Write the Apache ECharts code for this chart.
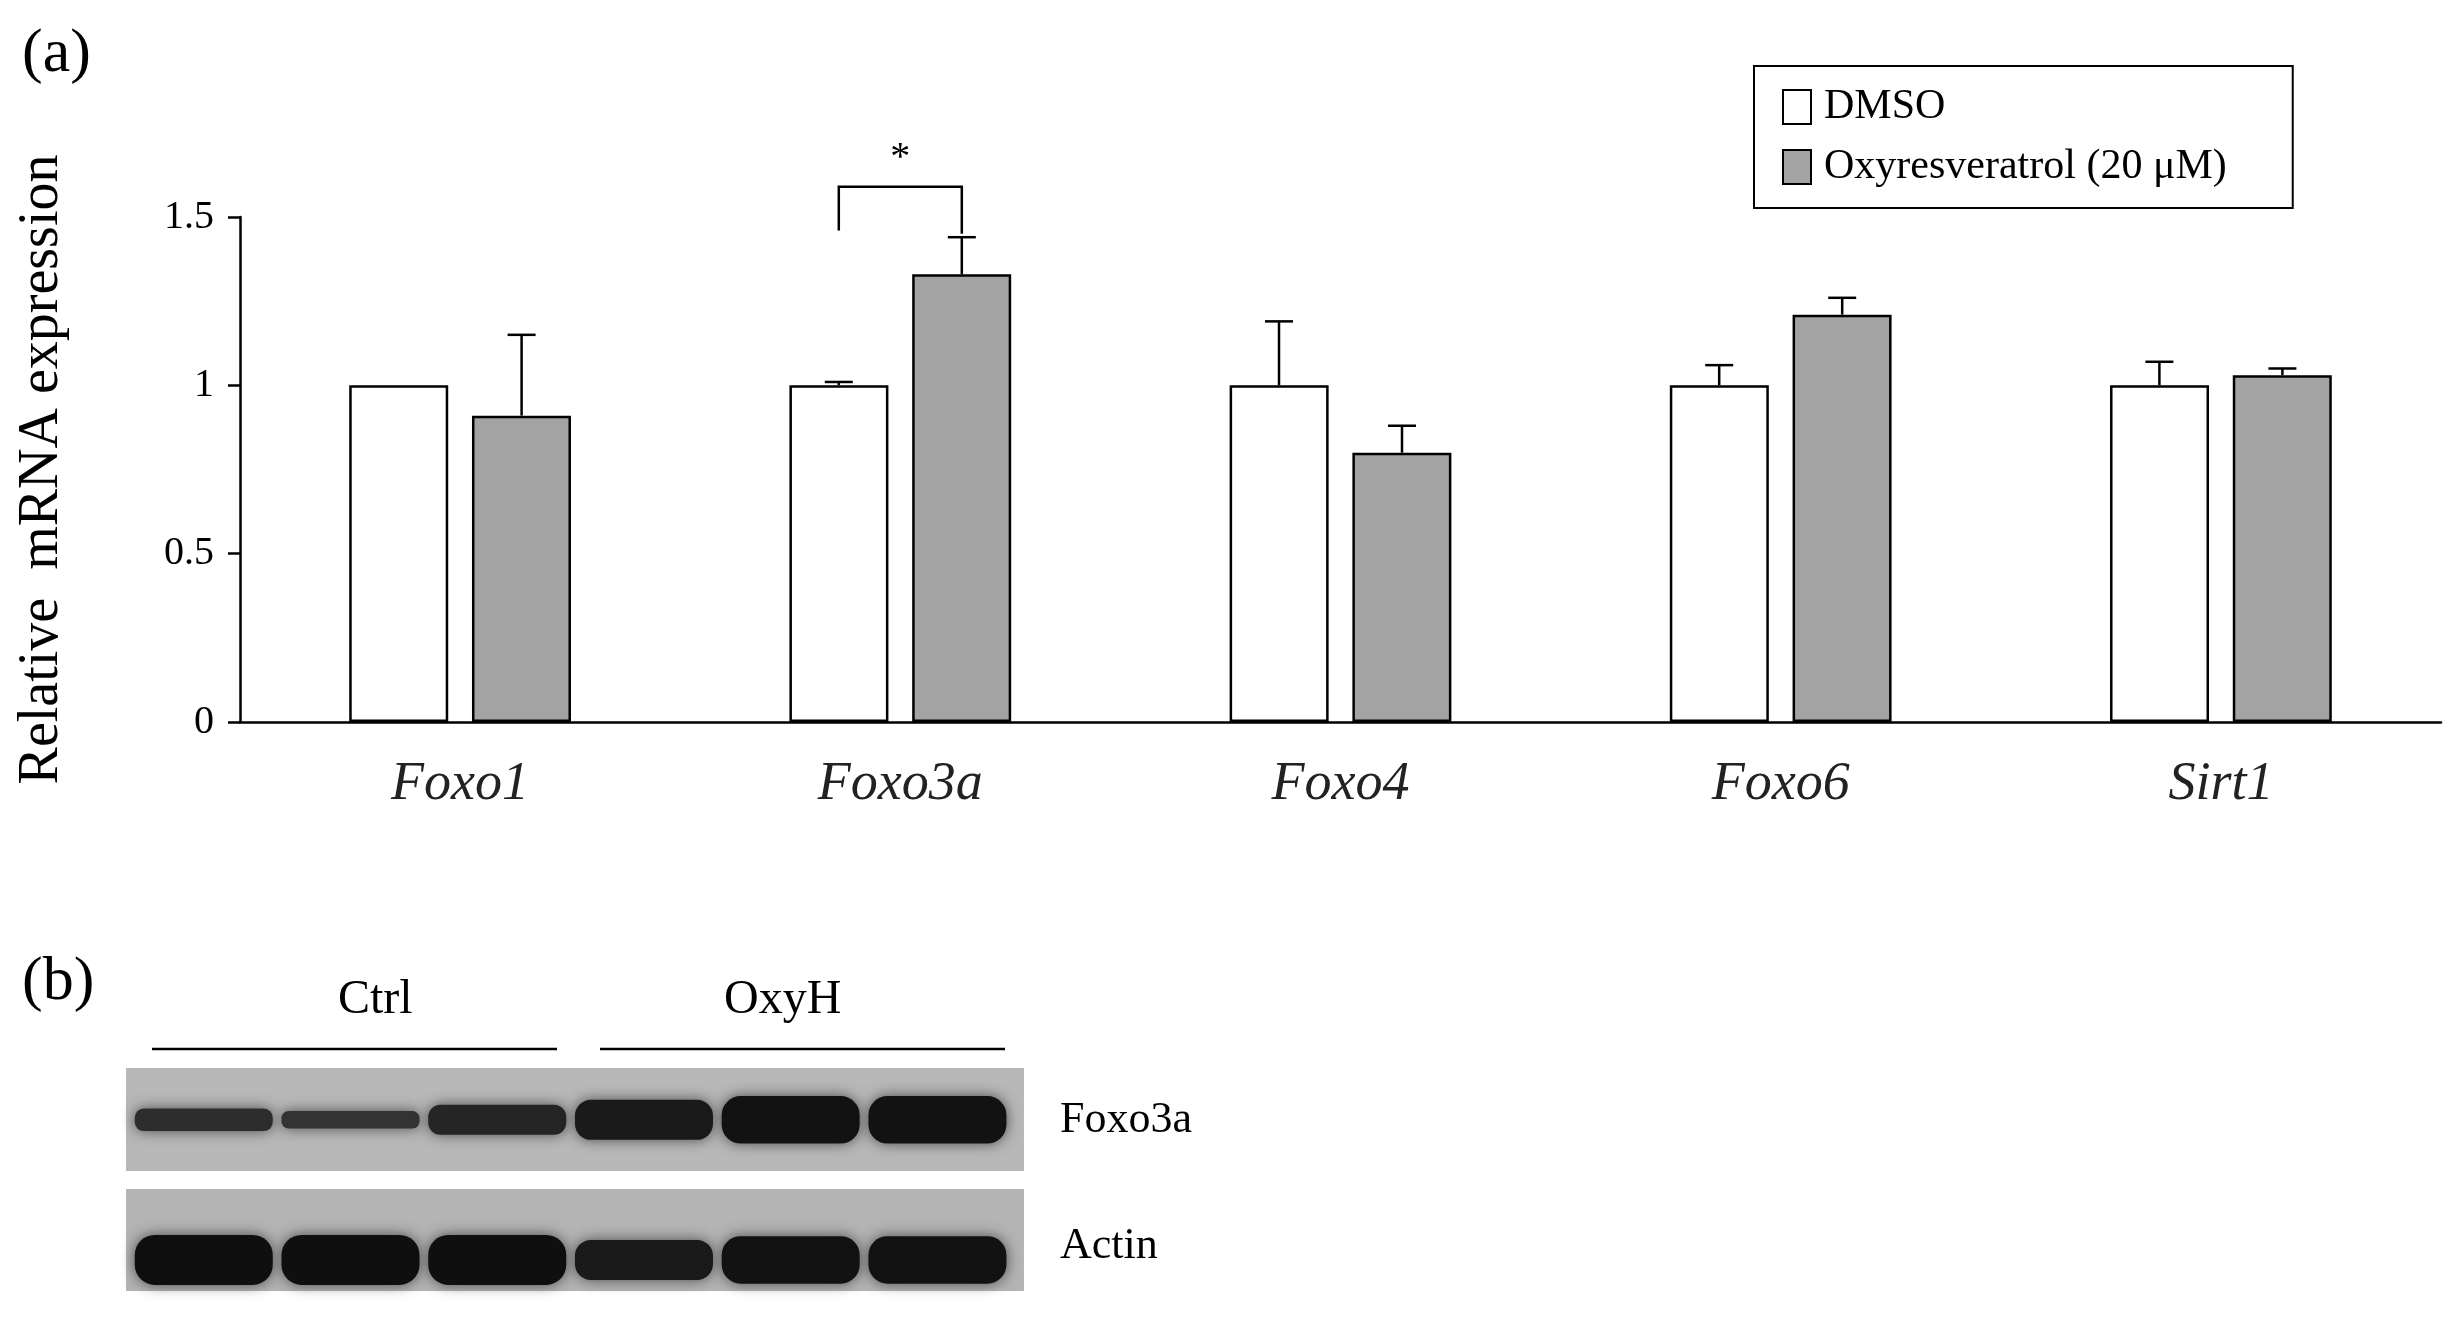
<!DOCTYPE html>
<html>
<head>
<meta charset="UTF-8">
<title>Relative mRNA expression</title>
<script src="https://cdn.jsdelivr.net/npm/echarts@6/dist/echarts.min.js"></script>
<style>html,body{margin:0;background:#fff}#chart{width:2462px;height:1320px}</style>
</head>
<body>
<div id="chart"></div>
<script>
// 数据
const genes = ['Foxo1', 'Foxo3a', 'Foxo4', 'Foxo6', 'Sirt1'];
const dmso = [1.0, 1.0, 1.0, 1.0, 1.0];
const dmsoErr = [0.0, 0.01, 0.19, 0.06, 0.07];
const oxy = [0.91, 1.33, 0.80, 1.21, 1.03];
const oxyErr = [0.24, 0.11, 0.08, 0.05, 0.02];
const sigBracket = [null, 1.59, null, null, null];

// western blot band intensity (0..1) per lane
const lanes = [0, 1, 2, 3, 4, 5];
const foxo3aBand = [0.45, 0.35, 0.6, 0.8, 0.95, 0.95];
const actinBand = [1.0, 1.0, 1.0, 0.8, 0.95, 0.95];

const serif = 'Liberation Serif';
const chart = echarts.init(document.getElementById('chart'));
const off = 61.5;

function errItem(params, api) {
    const i = api.value(0);
    const base = api.coord([i, 0]);
    const items = [];
    const pairs = [[dmso[i], dmsoErr[i], -off], [oxy[i], oxyErr[i], off]];
    pairs.forEach(p => {
        if (p[1] <= 0) return;
        const x = base[0] + p[2];
        const y0 = api.coord([i, p[0]])[1];
        const y1 = api.coord([i, p[0] + p[1]])[1];
        items.push({type: 'line', shape: {x1: x, y1: y0, x2: x, y2: y1}, style: {stroke: '#000', lineWidth: 2.5}});
        items.push({type: 'line', shape: {x1: x - 14, y1: y1, x2: x + 14, y2: y1}, style: {stroke: '#000', lineWidth: 2.5}});
    });
    if (sigBracket[i] != null) {
        const yb = api.coord([i, sigBracket[i]])[1];
        const yl = api.coord([i, dmso[i] + dmsoErr[i] + 0.45])[1];
        const yr = api.coord([i, oxy[i] + oxyErr[i] + 0.01])[1];
        const xl = base[0] - off, xr = base[0] + off;
        items.push({type: 'polyline', shape: {points: [[xl, yl], [xl, yb], [xr, yb], [xr, yr]]}, style: {stroke: '#000', lineWidth: 2.5, fill: null}});
        items.push({type: 'text', style: {text: '*', x: base[0], y: yb - 8, textAlign: 'center', textVerticalAlign: 'bottom', font: '40px ' + serif, fill: '#000'}});
    }
    return {type: 'group', children: items};
}

function bandItem(data, row) {
    return function (params, api) {
        const i = api.value(0);
        const c = api.coord([i, row]);
        const v = data[i];
        const w = 138, h = row === 1 ? 8 + 22 * v : 50 * v;
        const g = Math.round(70 - 55 * v);
        return {type: 'rect', shape: {x: c[0] - w / 2, y: c[1] - h / 2, width: w, height: h, r: h / 2.5},
            style: {fill: 'rgb(' + g + ',' + g + ',' + g + ')', shadowBlur: 14, shadowColor: 'rgba(30,30,30,0.7)'}};
    };
}

const option = {
    animation: false,
    textStyle: {fontFamily: serif, color: '#000'},
    grid: [
        {left: 240, right: 21, top: 217, bottom: 598},
        {left: 126, width: 898, top: 1068, height: 223}
    ],
    legend: {
        data: ['DMSO', 'Oxyresveratrol (20 μM)'],
        icon: 'rect',
        orient: 'vertical', left: 1754, top: 66, width: 653,
        padding: [20, 66, 20, 28], itemGap: 18,
        borderColor: '#000', borderWidth: 2,
        itemWidth: 28, itemHeight: 34,
        itemStyle: {borderColor: '#000', borderWidth: 2},
        textStyle: {fontFamily: serif, fontSize: 42, color: '#000', padding: [0, 0, 0, 8]}
    },
    xAxis: [
        {type: 'category', data: genes, gridIndex: 0,
            axisLine: {lineStyle: {color: '#000', width: 2.5}},
            axisTick: {length: 12, lineStyle: {width: 2.5}},
            axisLabel: {fontSize: 54, fontStyle: 'italic', color: '#222', margin: 36, fontFamily: serif}},
        {type: 'value', gridIndex: 1, min: -0.53, max: 5.59, show: false}
    ],
    yAxis: [
        {type: 'value', gridIndex: 0, min: 0, max: 1.5, interval: 0.5,
            name: 'Relative  mRNA expression', nameLocation: 'middle', nameGap: 170,
            nameTextStyle: {fontSize: 56, fontFamily: serif, color: '#000'},
            axisLine: {show: true, lineStyle: {color: '#000', width: 2.5}},
            axisTick: {show: true, length: 12, lineStyle: {width: 2.5}},
            splitLine: {show: false},
            axisLabel: {fontSize: 40, margin: 26, color: '#000', fontFamily: serif,
                formatter: v => v === 0 ? '0' : String(v)}},
        {type: 'value', gridIndex: 1, min: -0.05, max: 2.1, show: false}
    ],
    series: [
        {name: 'DMSO', type: 'bar', data: dmso, barWidth: 99, barGap: '24%',
            itemStyle: {color: '#fff', borderColor: '#000', borderWidth: 2.5}},
        {name: 'Oxyresveratrol (20 μM)', type: 'bar', data: oxy, barWidth: 99,
            itemStyle: {color: '#a3a3a3', borderColor: '#000', borderWidth: 2.5}},
        {type: 'custom', data: genes.map((g, i) => [i]), renderItem: errItem, z: 5, silent: true},
        {type: 'custom', xAxisIndex: 1, yAxisIndex: 1, data: lanes.map(i => [i]), renderItem: bandItem(foxo3aBand, 1.6), z: 3},
        {type: 'custom', xAxisIndex: 1, yAxisIndex: 1, data: lanes.map(i => [i]), renderItem: bandItem(actinBand, 0.25), z: 3}
    ],
    graphic: [
        {type: 'text', left: 22, top: 24, style: {text: '(a)', font: '62px ' + serif, fill: '#000'}},
        {type: 'text', left: 22, top: 952, style: {text: '(b)', font: '62px ' + serif, fill: '#000'}},
        {type: 'text', left: 338, top: 976, style: {text: 'Ctrl', font: '48px ' + serif, fill: '#000'}},
        {type: 'text', left: 724, top: 976, style: {text: 'OxyH', font: '48px ' + serif, fill: '#000'}},
        {type: 'line', shape: {x1: 152, y1: 1049, x2: 557, y2: 1049}, style: {stroke: '#000', lineWidth: 2.5}},
        {type: 'line', shape: {x1: 600, y1: 1049, x2: 1005, y2: 1049}, style: {stroke: '#000', lineWidth: 2.5}},
        {type: 'rect', shape: {x: 126, y: 1068, width: 898, height: 103}, style: {fill: '#b8b8b8'}, z: -1},
        {type: 'rect', shape: {x: 126, y: 1189, width: 898, height: 102}, style: {fill: '#b4b4b4'}, z: -1},
        {type: 'text', left: 1060, top: 1098, style: {text: 'Foxo3a', font: '44px ' + serif, fill: '#000'}},
        {type: 'text', left: 1060, top: 1224, style: {text: 'Actin', font: '44px ' + serif, fill: '#000'}}
    ]
};
chart.setOption(option);
</script>
</body>
</html>
